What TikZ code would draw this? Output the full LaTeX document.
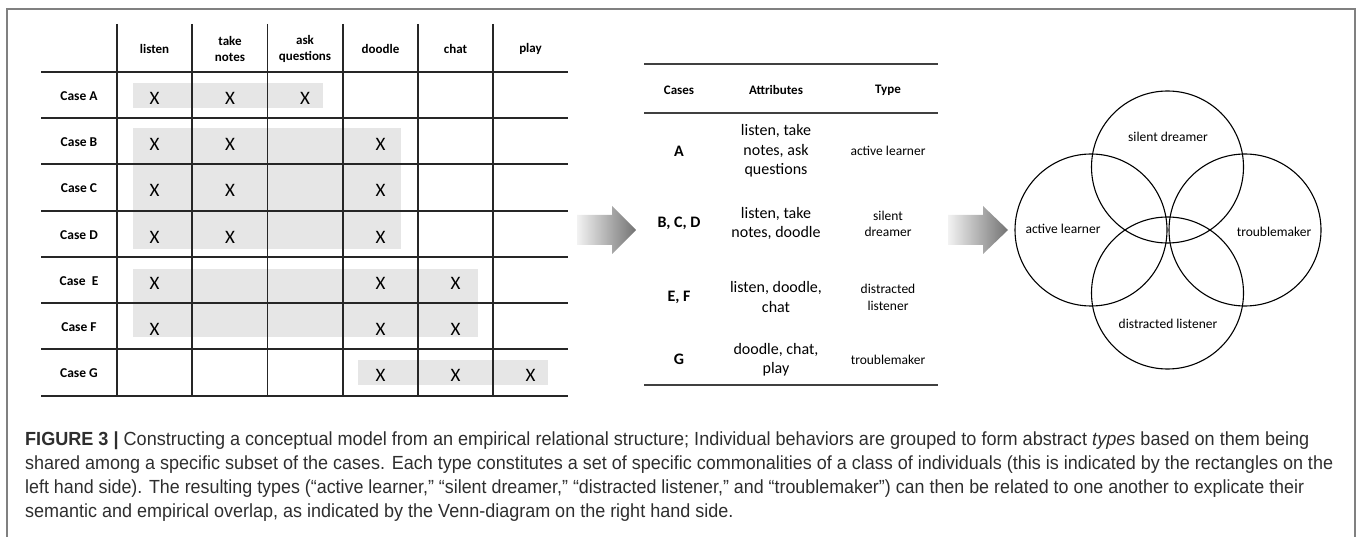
\documentclass[tikz,border=0pt]{standalone}
\usepackage{fontspec}
\usepackage{graphicx}
\newfontfamily\carlito{Carlito}
\newfontfamily\capfont{Liberation Sans}
\definecolor{boxgray}{HTML}{E6E6E6}
\definecolor{framegray}{HTML}{808080}
\definecolor{captext}{HTML}{2E2E2E}
\newcommand{\fsz}[2]{\fontsize{#1}{#2}\selectfont}
\newsavebox\capbox

\tikzset{
  frame/.style={line width=1.5pt, framegray},
  tline/.style={line width=1.2pt, black!85},
  rule/.style={line width=1.4pt, black!75},
  grp/.style={fill=boxgray},
  colhd/.style={font=\carlito\bfseries\fsz{13}{16}, align=center, inner sep=0pt},
  casehd/.style={font=\carlito\bfseries\fsz{13.5}{16}, inner sep=0pt},
  cross/.style={font=\carlito\fsz{19}{20}, inner sep=0pt},
  attr/.style={font=\carlito\fsz{16}{19.5}, align=center, inner sep=0pt},
  kind/.style={font=\carlito\fsz{13.5}{16.5}, align=center, inner sep=0pt},
  bigcase/.style={font=\carlito\bfseries\fsz{16}{19}, inner sep=0pt},
  venn/.style={circle, draw, line width=1.1pt, minimum size=152pt, inner sep=0pt},
  vlabel/.style={font=\carlito\fsz{13.5}{16}, inner sep=0pt},
  blockarrow/.style={left color=black!5, right color=black!55},
  capline/.style={anchor=base west, inner sep=0pt, font=\capfont\fsz{19}{24}, text=captext}
}

\begin{document}
\sbox\capbox{\capfont\fsz{19}{24}shared among a specific subset of the cases. Each type constitutes a set of specific commonalities of a class of individuals (this is indicated by the rectangles on the}%
\pgfmathsetmacro\capsx{1308/\the\wd\capbox}%
\begin{tikzpicture}[x=1pt,y=-1pt]
  \useasboundingbox (0,0) rectangle (1357,537);
  \draw[frame] (7,537) -- (7,9) -- (1355,9) -- (1355,537);

  % shaded groups behind the grid
  \fill[grp] (133,83) rectangle (322.5,108);
  \fill[grp] (133,128) rectangle (400.7,249);
  \fill[grp] (133,269) rectangle (477.5,337);
  \fill[grp] (358,360) rectangle (548,385);

  % grid of the case table
  \foreach \y in {72,118,164,211,257,303,349,396}
    \draw[tline] (41,\y) -- (568,\y);
  \foreach \x in {117,192,267.5,343,418,493}
    \draw[tline] (\x,24) -- (\x,396);

  \foreach \x/\nm/\txt in {154.5/listen/listen, 230/take/take\\notes, 305/ask/ask\\questions,
      380.5/doodle/doodle, 455.5/chat/chat, 530.5/play/play}
    \node[colhd] (h-\nm) at (\x,49) {\txt};

  \foreach \y/\c/\txt in {96/A/Case A, 142/B/Case B, 188/C/Case C, 235/D/Case D,
      281/E/Case~ E, 327/F/Case F, 373/G/Case G}
    \node[casehd] (case-\c) at (79,\y) {\txt};

  \foreach \r/\y/\cols in {A/98/{154.5,230,305}, B/144/{154.5,230,380.5},
      C/190.5/{154.5,230,380.5}, D/237/{154.5,230,380.5}, E/283/{154.5,380.5,455.5},
      F/329/{154.5,380.5,455.5}, G/375.5/{380.5,455.5,530.5}}
    \foreach \x [count=\i] in \cols
      \node[cross] (x-\r-\i) at (\x,\y) {X};

  % first arrow
  \shade[blockarrow] (577,215) -- (612,215) -- (612,206) -- (636,230)
    -- (612,254) -- (612,245) -- (577,245) -- cycle;

  % types table
  \draw[rule] (644,64) -- (938,64);
  \draw[rule] (644,113) -- (938,113);
  \draw[rule] (644,385) -- (938,385);
  \node[colhd] (t-cases) at (679,90) {Cases};
  \node[colhd] (t-attr) at (776,90) {Attributes};
  \node[colhd] (t-type) at (888,90) {Type};

  \node[bigcase] (c-a) at (679,151) {A};
  \node[attr] (a-a) at (776,151) {listen, take\\notes, ask\\questions};
  \node[kind] (k-a) at (888,151) {active learner};

  \node[bigcase] (c-bcd) at (679,223) {B, C, D};
  \node[attr] (a-bcd) at (776,223.5) {listen, take\\notes, doodle};
  \node[kind] (k-bcd) at (888,224) {silent\\dreamer};

  \node[bigcase] (c-ef) at (679,297) {E, F};
  \node[attr] (a-ef) at (776,297) {listen, doodle,\\chat};
  \node[kind] (k-ef) at (888,297.5) {distracted\\listener};

  \node[bigcase] (c-g) at (679,359) {G};
  \node[attr] (a-g) at (776,359.5) {doodle, chat,\\play};
  \node[kind] (k-g) at (888,360) {troublemaker};

  % second arrow
  \shade[blockarrow] (948,215) -- (983,215) -- (983,206) -- (1008,230)
    -- (983,254) -- (983,245) -- (948,245) -- cycle;

  % venn diagram
  \node[venn] (v-top) at (1167.5,167) {};
  \node[venn] (v-left) at (1091,230) {};
  \node[venn] (v-right) at (1245,230) {};
  \node[venn] (v-bottom) at (1167.5,293) {};
  \node[vlabel] (l-top) at (1168,137) {silent dreamer};
  \node[vlabel] (l-left) at (1063,229) {active learner};
  \node[vlabel] (l-right) at (1274,232) {troublemaker};
  \node[vlabel] (l-bottom) at (1168,324) {distracted listener};

  % caption
  \node[capline] (cap1) at (25,445) {\resizebox{1284pt}{\height}{\textbf{FIGURE 3 |} Constructing a conceptual model from an empirical relational structure; Individual behaviors are grouped to form abstract \textit{types} based on them being}};
  \node[capline] (cap2) at (25,469) {\scalebox{\capsx}[1]{shared among a specific subset of the cases. Each type constitutes a set of specific commonalities of a class of individuals (this is indicated by the rectangles on the}};
  \node[capline] (cap3) at (25,493) {\resizebox{1279pt}{\height}{left hand side). The resulting types (“active learner,” “silent dreamer,” “distracted listener,” and “troublemaker”) can then be related to one another to explicate their}};
  \node[capline] (cap4) at (25,517) {\scalebox{\capsx}[1]{semantic and empirical overlap, as indicated by the Venn-diagram on the right hand side.}};
\end{tikzpicture}
\end{document}
